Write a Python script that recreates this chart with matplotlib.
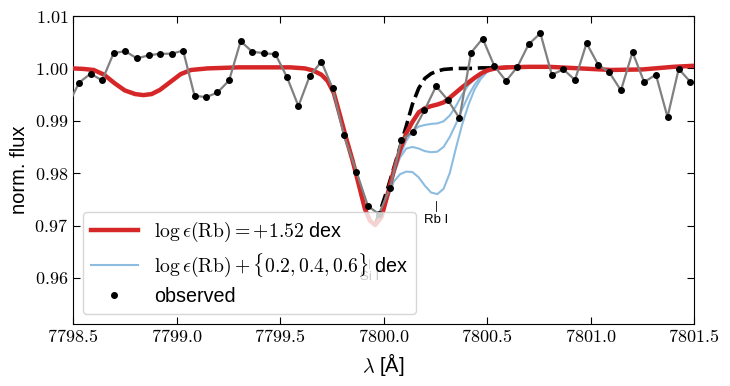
import matplotlib
matplotlib.use("Agg")
import matplotlib.pyplot as plt
from matplotlib.ticker import FuncFormatter

plt.rcParams['font.family'] = ['Liberation Sans', 'DejaVu Sans']
plt.rcParams['mathtext.fontset'] = 'cm'

# observed spectrum
obs_wave = [7798.474, 7798.530, 7798.585, 7798.641, 7798.696, 7798.752, 7798.809, 7798.865,
            7798.920, 7798.976, 7799.032, 7799.087, 7799.143, 7799.198, 7799.254, 7799.310,
            7799.365, 7799.421, 7799.478, 7799.534, 7799.589, 7799.643, 7799.700, 7799.754,
            7799.809, 7799.869, 7799.925, 7799.978, 7800.032, 7800.086, 7800.142, 7800.198,
            7800.254, 7800.310, 7800.367, 7800.423, 7800.479, 7800.536, 7800.592, 7800.647,
            7800.701, 7800.758, 7800.813, 7800.869, 7800.925, 7800.981, 7801.037, 7801.090,
            7801.147, 7801.203, 7801.259, 7801.316, 7801.372, 7801.426, 7801.483]
obs_flux = [0.9929, 0.9973, 0.9990, 0.9977, 1.0029, 1.0033, 1.0019, 1.0025,
            1.0028, 1.0028, 1.0034, 0.9948, 0.9945, 0.9954, 0.9977, 1.0052,
            1.0032, 1.0029, 1.0027, 0.9983, 0.9928, 0.9985, 1.0013, 0.9962,
            0.9872, 0.9803, 0.9737, 0.9722, 0.9772, 0.9863, 0.9879, 0.9920,
            0.9966, 0.9940, 0.9905, 1.0030, 1.0057, 1.0004, 0.9976, 1.0003,
            1.0046, 1.0067, 0.9988, 0.9998, 0.9978, 1.0048, 1.0007, 0.9993,
            0.9958, 1.0031, 0.9974, 0.9988, 0.9907, 0.9999, 0.9974]

# best-fit synthetic spectrum
model_wave = [7798.45, 7798.50, 7798.55, 7798.60, 7798.65, 7798.70, 7798.75, 7798.80,
              7798.84, 7798.88, 7798.92, 7798.97, 7799.02, 7799.07, 7799.15, 7799.30,
              7799.55, 7799.62, 7799.66, 7799.70, 7799.73, 7799.76, 7799.79, 7799.82,
              7799.85, 7799.88, 7799.91, 7799.935,
              7799.96, 7799.99, 7800.02, 7800.05, 7800.08, 7800.11, 7800.14, 7800.17,
              7800.20, 7800.23, 7800.26, 7800.29, 7800.32, 7800.35, 7800.38, 7800.41,
              7800.44, 7800.47, 7800.50, 7800.53, 7800.56, 7800.60,
              7800.70, 7800.80, 7800.95, 7801.10, 7801.25, 7801.40, 7801.55]
model_flux = [1.0000, 1.0000, 0.9999, 0.9997, 0.9988, 0.9972, 0.9958, 0.9951,
              0.9949, 0.9951, 0.9959, 0.9974, 0.9989, 0.9997, 1.0000, 1.0002,
              1.0002, 1.0000, 0.9996, 0.9988, 0.9976, 0.9953, 0.9910, 0.9866,
              0.9825, 0.9779, 0.9732, 0.9709,
              0.9701, 0.9716, 0.9760, 0.9805, 0.9845, 0.9876, 0.9898, 0.9916,
              0.9924, 0.9928, 0.9931, 0.9935, 0.9944, 0.9954, 0.9964, 0.9973,
              0.9982, 0.9990, 0.9996, 0.9999, 1.0001, 1.0002,
              1.0003, 1.0003, 1.0000, 0.9997, 0.9998, 1.0003, 1.0006]

# Rb I region: no Rb, and enhanced Rb abundances
rb_wave = [7799.96, 7799.99, 7800.02, 7800.05, 7800.08, 7800.11, 7800.14, 7800.17,
           7800.20, 7800.23, 7800.26, 7800.29, 7800.32, 7800.35, 7800.38, 7800.41,
           7800.44, 7800.47, 7800.50, 7800.53, 7800.56, 7800.60]
norb_flux = [0.9701, 0.9735, 0.9771, 0.9810, 0.9850, 0.9890, 0.9932, 0.9962,
             0.9981, 0.9990, 0.9995, 0.9998, 0.9999, 1.0000, 1.0000, 1.0000,
             1.0000, 1.0001, 1.0001, 1.0001, 1.0001, 1.0002]
rb02_flux = [0.9701, 0.9716, 0.9760, 0.9800, 0.9834, 0.9862, 0.9880, 0.9889,
             0.9892, 0.9894, 0.9895, 0.9899, 0.9910, 0.9928, 0.9950, 0.9968,
             0.9979, 0.9988, 0.9995, 0.9999, 1.0001, 1.0002]
rb04_flux = [0.9701, 0.9716, 0.9758, 0.9798, 0.9830, 0.9847, 0.9850, 0.9847,
             0.9842, 0.9840, 0.9841, 0.9850, 0.9869, 0.9894, 0.9922, 0.9948,
             0.9969, 0.9984, 0.9994, 0.9999, 1.0001, 1.0002]
rb06_flux = [0.9701, 0.9716, 0.9752, 0.9784, 0.9798, 0.9803, 0.9802, 0.9792,
             0.9776, 0.9763, 0.9760, 0.9770, 0.9800, 0.9848, 0.9893, 0.9930,
             0.9960, 0.9980, 0.9993, 0.9999, 1.0001, 1.0002]

fig = plt.figure(figsize=(7.3, 3.86), dpi=100)
ax = fig.add_axes([0.100, 0.1606, 0.8507, 0.7979])

blue = '#8cbde0'
for i, fl in enumerate([rb02_flux, rb04_flux, rb06_flux]):
    lab = r'$\log\epsilon(\mathrm{Rb}) + \{0.2, 0.4, 0.6\}$ dex' if i == 0 else None
    ax.plot(rb_wave, fl, color=blue, lw=1.5, zorder=1, label=lab)
ax.plot(rb_wave, norb_flux, color='k', ls='--', lw=2.6, zorder=2)
ax.plot(model_wave, model_flux, color='#d62728', lw=3.2, zorder=3,
        label=r'$\log\epsilon(\mathrm{Rb}) = +1.52$ dex')
ax.plot(obs_wave, obs_flux, color='gray', lw=1.6, zorder=4)
ax.plot(obs_wave, obs_flux, 'o', color='k', ms=4, zorder=5, label='observed')

# line identifications (Si I sits behind the legend)
ax.plot([7800.254, 7800.254], [0.9747, 0.9727], color='k', lw=0.6, zorder=2)
ax.text(7800.254, 0.9722, 'Rb I', ha='center', va='top', fontsize=9.5, zorder=2)
ax.plot([7799.932, 7799.932], [0.9637, 0.9618], color='k', lw=0.6, zorder=2)
ax.text(7799.932, 0.9613, 'Si I', ha='center', va='top', fontsize=9.5, zorder=2)

ax.set_xlim(7798.5, 7801.5)
ax.set_ylim(0.9512, 1.0100)
ax.set_xticks([7798.5, 7799.0, 7799.5, 7800.0, 7800.5, 7801.0, 7801.5])
ax.set_yticks([0.96, 0.97, 0.98, 0.99, 1.00, 1.01])
ax.xaxis.set_major_formatter(FuncFormatter(lambda v, p: '$%.1f$' % v))
ax.yaxis.set_major_formatter(FuncFormatter(lambda v, p: '$%.2f$' % v))
ax.tick_params(direction='in', top=True, right=True, labelsize=13, length=5)
ax.set_ylabel('norm. flux', fontsize=14.5)
ax.set_xlabel(r'$\lambda$ [Å]', fontsize=14.5)

h, l = ax.get_legend_handles_labels()
order = [1, 0, 2]
leg = ax.legend([h[k] for k in order], [l[k] for k in order], loc='lower left',
                fontsize=14.2, handlelength=2.4, framealpha=0.8,
                borderaxespad=0.5, labelspacing=0.4)
leg.set_zorder(10)

fig.savefig('out.png', dpi=100)
